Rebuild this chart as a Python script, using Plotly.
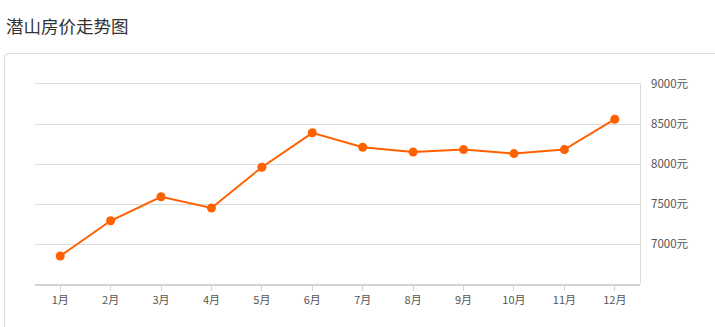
import plotly.graph_objects as go

months = ["1月", "2月", "3月", "4月", "5月", "6月", "7月", "8月", "9月", "10月", "11月", "12月"]
prices = [6850, 7290, 7590, 7450, 7960, 8390, 8210, 8150, 8180, 8130, 8180, 8560]
y_ticks = [7000, 7500, 8000, 8500, 9000]
y_tick_labels = [f"{v}元" for v in y_ticks]
title_text = "潜山房价走势图"

W, H = 715, 327
L, R, T, B = 35, 75, 84, 43
pw, ph = W - L - R, H - T - B

def px_x(p):
    return (p - L) / pw

def px_y(p):
    return (H - B - p) / ph

font_family = "Noto Sans CJK SC, Noto Sans, sans-serif"

fig = go.Figure()
fig.add_trace(go.Scatter(
    x=months, y=prices, mode="lines+markers",
    line=dict(color="#ff6000", width=2),
    marker=dict(color="#ff6000", size=9),
    hoverinfo="x+y", showlegend=False,
))

# card border with rounded top-left corner
x0, y0, x1, y1, r = px_x(4.5), px_y(53.5), px_x(730), px_y(340), 4 / pw
ry = 4 / ph
card = (f"M {x0} {y1} L {x0} {y0 - ry} Q {x0} {y0} {x0 + r} {y0} L {x1} {y0}")
fig.add_shape(type="path", path=card, xref="paper", yref="paper",
              line=dict(color="#dcdcdc", width=1), layer="below")
# right axis line
fig.add_shape(type="line", xref="paper", yref="paper", x0=px_x(640.5), x1=px_x(640.5),
              y0=0, y1=px_y(83.5),
              line=dict(color="#dcdcdc", width=1), layer="below")
# top gridline (at the range edge)
fig.add_shape(type="line", xref="paper", yref="paper", x0=0, x1=px_x(640.5),
              y0=px_y(83.5), y1=px_y(83.5),
              line=dict(color="#dcdcdc", width=1), layer="above")

fig.add_annotation(text=title_text, xref="paper", yref="paper",
                   x=px_x(4), y=px_y(25), xanchor="left", yanchor="middle",
                   showarrow=False, font=dict(size=17.5, color="#333333", family=font_family))

fig.update_layout(
    width=W, height=H,
    margin=dict(l=L, r=R, t=T, b=B),
    paper_bgcolor="white", plot_bgcolor="white",
    font=dict(family=font_family, size=11, color="#555555"),
    xaxis=dict(
        type="category", range=[-0.5, 11.5],
        showgrid=False, zeroline=False,
        showline=True, linecolor="#d4d4d4", linewidth=2,
        ticks="outside", ticklen=5, tickcolor="#d4d4d4", tickwidth=1,
        tickfont=dict(size=11, color="#555555"),
        fixedrange=True,
    ),
    yaxis=dict(
        side="right", range=[6500, 9000],
        tickvals=y_ticks, ticktext=y_tick_labels,
        showgrid=True, gridcolor="#dcdcdc", gridwidth=1,
        zeroline=False, showline=False, ticks="",
        ticklabelstandoff=10,
        tickfont=dict(size=11.5, color="#555555"),
        fixedrange=True,
    ),
)

fig.write_html("out.html")
